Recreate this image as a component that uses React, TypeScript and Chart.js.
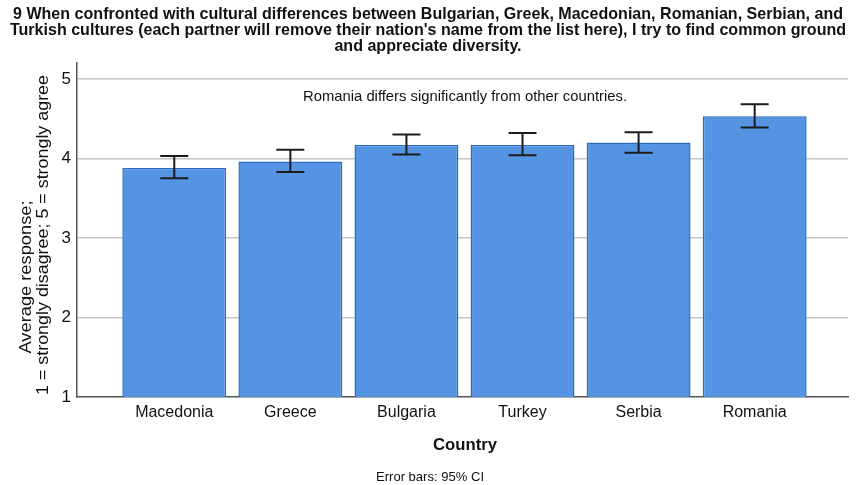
import React, { useEffect, useRef } from "react";
import { Chart, registerables } from "chart.js";

Chart.register(...registerables);

const categories = ["Macedonia", "Greece", "Bulgaria", "Turkey", "Serbia", "Romania"];
const means = [3.88, 3.96, 4.17, 4.17, 4.2, 4.53];
const ciLower = [3.75, 3.83, 4.05, 4.04, 4.07, 4.39];
const ciUpper = [4.03, 4.11, 4.3, 4.32, 4.33, 4.68];
const yTicks = [1, 2, 3, 4, 5];

const titleLines = [
  "9 When confronted with cultural differences between Bulgarian, Greek, Macedonian, Romanian, Serbian, and",
  "Turkish cultures (each partner will remove their nation's name from the list here), I try to find common ground",
  "and appreciate diversity.",
];
const yTitleLines = ["Average response;", "1 = strongly disagree; 5 = strongly agree"];
const xTitle = "Country";
const annotation = "Romania differs significantly from other countries.";
const footnote = "Error bars: 95% CI";

const FONT = "'Liberation Sans', Arial, sans-serif";

function drawFit(
  ctx: CanvasRenderingContext2D,
  text: string,
  cx: number,
  cy: number,
  font: string,
  targetW: number | null,
  rot = 0,
  color = "#111"
) {
  ctx.save();
  ctx.font = font;
  ctx.fillStyle = color;
  ctx.textAlign = "center";
  ctx.textBaseline = "middle";
  const w = ctx.measureText(text).width;
  const sx = targetW ? targetW / w : 1;
  ctx.translate(cx, cy);
  ctx.rotate(rot);
  ctx.scale(sx, 1);
  ctx.fillText(text, 0, 0);
  ctx.restore();
}

const extrasPlugin = {
  id: "extras",
  afterDatasetsDraw(chart: any) {
    const ctx: CanvasRenderingContext2D = chart.ctx;
    const xs = chart.scales.x;
    const ys = chart.scales.y;
    ctx.save();
    ctx.strokeStyle = "#1c1c1c";
    ctx.lineWidth = 2;
    for (let i = 0; i < categories.length; i++) {
      const x = xs.getPixelForValue(i);
      const yh = ys.getPixelForValue(ciUpper[i]);
      const yl = ys.getPixelForValue(ciLower[i]);
      ctx.beginPath();
      ctx.moveTo(x, yh);
      ctx.lineTo(x, yl);
      ctx.moveTo(x - 14, yh);
      ctx.lineTo(x + 14, yh);
      ctx.moveTo(x - 14, yl);
      ctx.lineTo(x + 14, yl);
      ctx.stroke();
    }
    ctx.restore();
  },
  afterDraw(chart: any) {
    const ctx: CanvasRenderingContext2D = chart.ctx;
    const tFont = `bold 17px ${FONT}`;
    ctx.save();
    ctx.font = tFont;
    const w1 = ctx.measureText(titleLines[0]).width;
    ctx.restore();
    const sx = 830 / w1;
    const ty = [14, 30, 46];
    titleLines.forEach((t, i) => {
      ctx.save();
      ctx.font = tFont;
      const w = ctx.measureText(t).width * sx;
      ctx.restore();
      drawFit(ctx, t, 428, ty[i], tFont, w, 0, "#111");
    });
    drawFit(ctx, yTitleLines[0], 26, 277, `17px ${FONT}`, 153, -Math.PI / 2, "#111");
    drawFit(ctx, yTitleLines[1], 43, 235, `17px ${FONT}`, 320, -Math.PI / 2, "#111");
    drawFit(ctx, annotation, 465, 97, `15px ${FONT}`, 324, 0, "#111");
    drawFit(ctx, xTitle, 465, 446, `bold 16px ${FONT}`, 64, 0, "#111");
    drawFit(ctx, footnote, 430, 477, `13px ${FONT}`, 108, 0, "#111");
  },
};

export default function App() {
  const ref = useRef<HTMLCanvasElement | null>(null);
  useEffect(() => {
    if (!ref.current) return;
    const chart = new Chart(ref.current, {
      type: "bar",
      data: {
        datasets: [
          {
            data: categories.map((c, i) => ({ x: i, y: means[i] })),
            backgroundColor: "#5494e3",
            borderColor: "#2d6bc0",
            borderWidth: 1.5,
            borderSkipped: false,
            categoryPercentage: 1,
            barPercentage: 0.895,
          } as any,
        ],
      },
      options: {
        animation: false,
        responsive: false,
        maintainAspectRatio: false,
        layout: { padding: { top: 63, right: 8, left: 0, bottom: 0 } },
        plugins: {
          legend: { display: false },
          tooltip: { enabled: false },
          title: { display: false },
        },
        scales: {
          x: {
            type: "linear",
            offset: false,
            min: -0.838,
            max: 5.804,
            grid: { display: false, drawTicks: false, offset: false },
            border: { display: true, color: "#555", width: 1.5 },
            ticks: {
              stepSize: 1,
              includeBounds: false,
              padding: 6,
              color: "#111",
              font: { family: FONT, size: 16 },
              callback: (v: any) => categories[v] ?? "",
            } as any,
            afterFit: (s: any) => {
              s.height = 88;
            },
          },
          y: {
            type: "linear",
            min: 1,
            max: 5.2,
            afterBuildTicks: (s: any) => {
              s.ticks = yTicks.map((v) => ({ value: v }));
            },
            grid: {
              drawTicks: false,
              color: (c: any) => (c.tick && c.tick.value === 1 ? "rgba(0,0,0,0)" : "#c4c4c4"),
              lineWidth: 1.5,
            },
            border: { display: true, color: "#555", width: 1.5 },
            ticks: {
              padding: 6,
              color: "#111",
              font: { family: FONT, size: 17 },
            },
            afterFit: (s: any) => {
              s.width = 77;
            },
          },
        },
      },
      plugins: [extrasPlugin],
    });
    return () => chart.destroy();
  }, []);
  return (
    <div style={{ position: "fixed", left: 0, top: 0, width: 856, height: 485, background: "#fff" }}>
      <canvas ref={ref} width={856} height={485} style={{ width: 856, height: 485 }} />
    </div>
  );
}
